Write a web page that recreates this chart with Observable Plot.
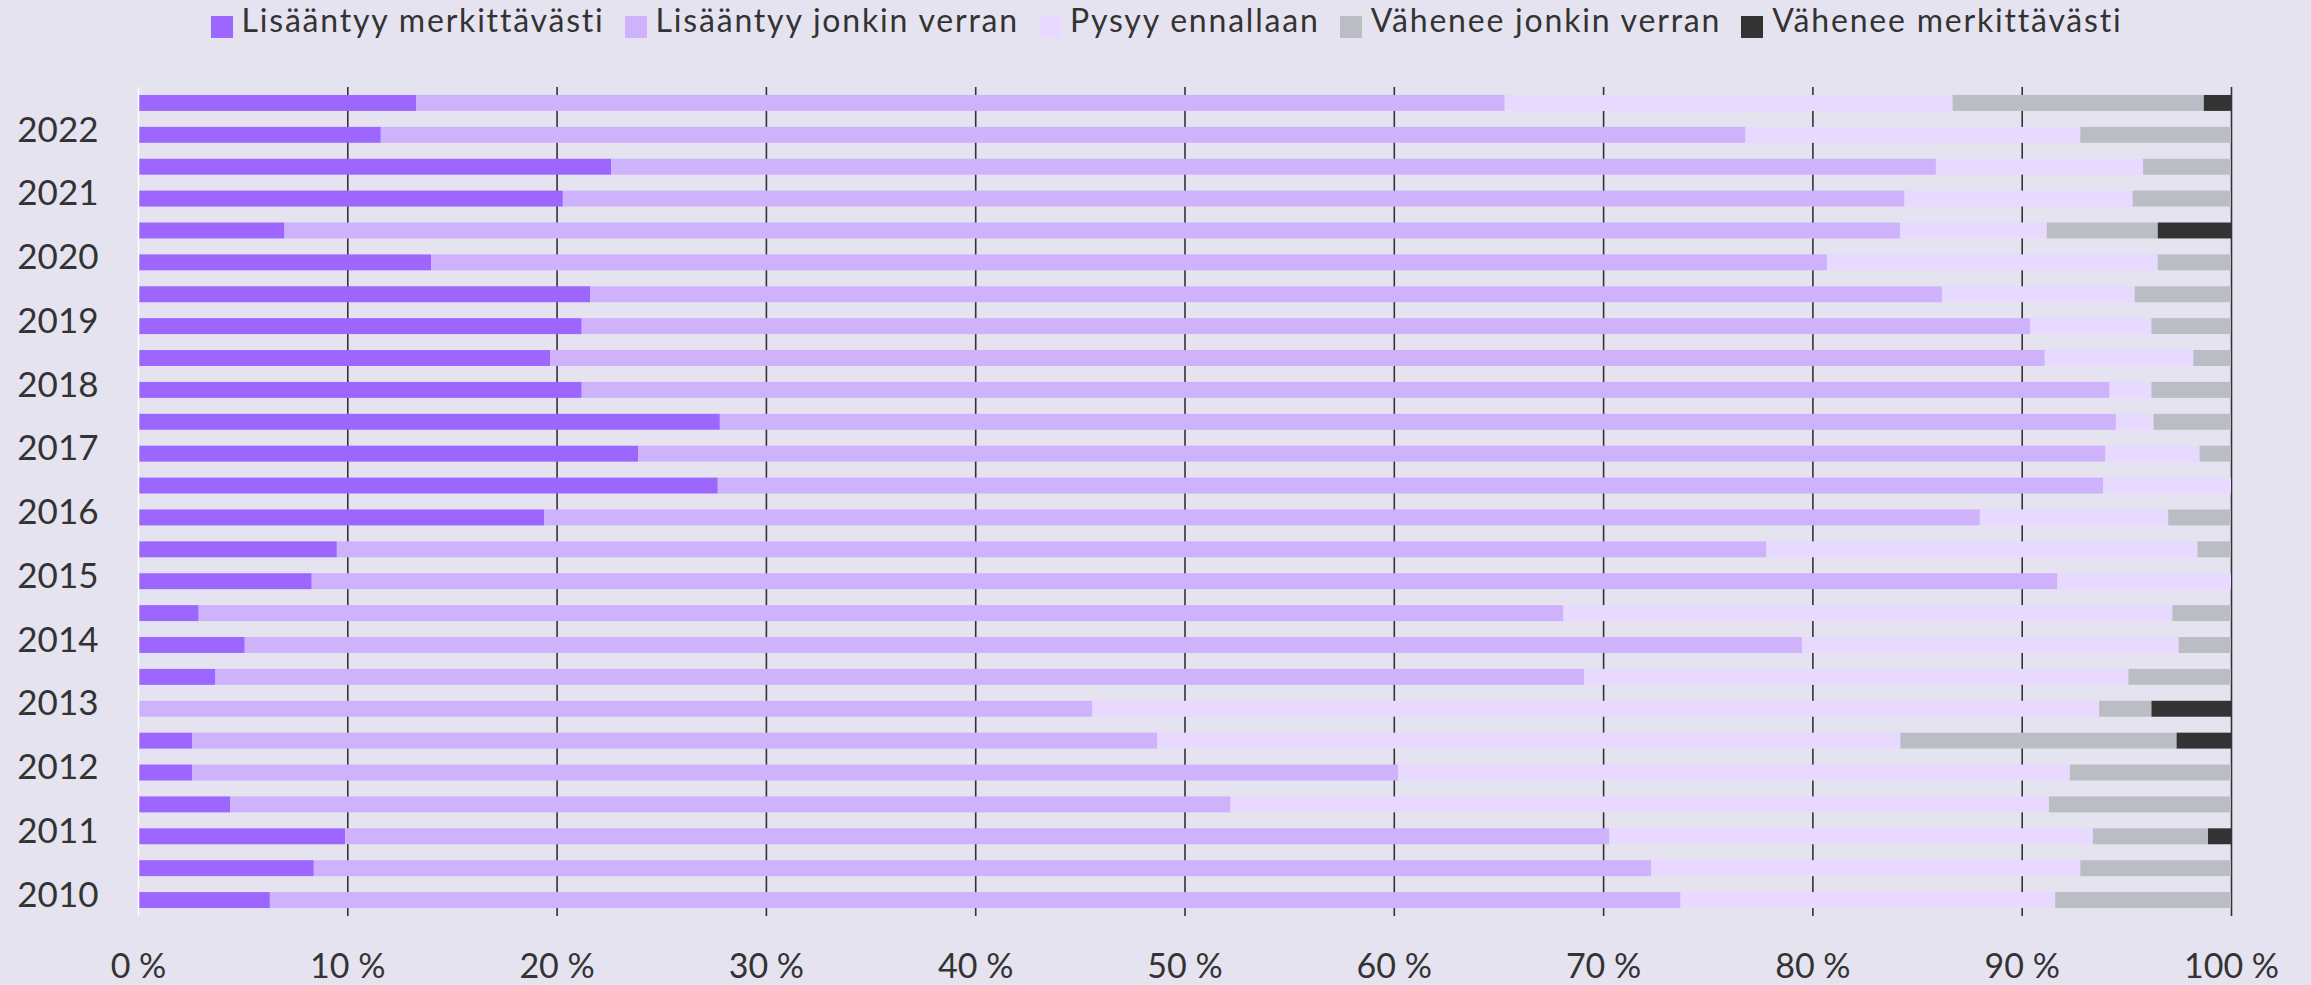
<!DOCTYPE html>
<html>
<head>
<meta charset="utf-8">
<script src="https://cdn.jsdelivr.net/npm/d3@7"></script>
<script src="https://cdn.jsdelivr.net/npm/@observablehq/plot@0.6"></script>
<style>
  html, body { margin: 0; padding: 0; background: #e5e3ef; }
  body { width: 2311px; height: 985px; overflow: hidden; font-family: Lato, sans-serif; color: #333; }
  #legend { height: 60px; display: flex; justify-content: center; align-items: flex-start; padding-left: 22px; box-sizing: border-box; }
  .item { display: flex; align-items: flex-start; margin: 0 10px; }
  .sw { width: 22px; height: 22px; margin-top: 16px; margin-right: 9px; flex: none; }
  .lbl { font-size: 32px; line-height: 32px; padding-top: 4px; letter-spacing: 1.8px; white-space: nowrap; }
  svg { display: block; }
</style>
</head>
<body>
<div id="legend"></div>
<div id="chart"></div>
<script>
const periods = ["2010 I","2010 II","2011 I","2011 II","2012 I","2012 II","2013 I","2013 II","2014 I","2014 II","2015 I","2015 II","2016 I","2016 II","2017 I","2017 II","2018 I","2018 II","2019 I","2019 II","2020 I","2020 II","2021 I","2021 II","2022 I","2022 II"];
const categories = ["Lisääntyy merkittävästi","Lisääntyy jonkin verran","Pysyy ennallaan","Vähenee jonkin verran","Vähenee merkittävästi"];
const colors = ["#9d66ff","#ceb2fc","#e7d9ff","#bbbdc5","#333333"];
const lisMerk   = [6.3, 8.4, 9.9, 4.4, 2.6, 2.6, 0, 3.7, 5.1, 2.9, 8.3, 9.5, 19.4, 27.7, 23.9, 27.8, 21.2, 19.7, 21.2, 21.6, 14.0, 7.0, 20.3, 22.6, 11.6, 13.3];
const lisJonkin = [67.4, 63.9, 60.4, 47.8, 57.6, 46.1, 45.6, 65.4, 74.4, 65.2, 83.4, 68.3, 68.6, 66.2, 70.1, 66.7, 73.0, 71.4, 69.2, 64.6, 66.7, 77.2, 64.1, 63.3, 65.2, 52.0];
const pysyy     = [17.9, 20.5, 23.1, 39.1, 32.1, 35.5, 48.1, 26.0, 18.0, 29.1, 8.3, 20.6, 9.0, 6.1, 4.5, 1.8, 2.0, 7.1, 5.8, 9.2, 15.8, 7.0, 10.9, 9.9, 16.0, 21.4];
const vahJonkin = [8.4, 7.2, 5.5, 8.7, 7.7, 13.2, 2.5, 4.9, 2.5, 2.8, 0, 1.6, 3.0, 0, 1.5, 3.7, 3.8, 1.8, 3.8, 4.6, 3.5, 5.3, 4.7, 4.2, 7.2, 12.0];
const vahMerk   = [0, 0, 1.1, 0, 0, 2.6, 3.8, 0, 0, 0, 0, 0, 0, 0, 0, 0, 0, 0, 0, 0, 0, 3.5, 0, 0, 0, 1.3];
const xTicks = [0, 10, 20, 30, 40, 50, 60, 70, 80, 90, 100];

const series = [lisMerk, lisJonkin, pysyy, vahJonkin, vahMerk];
const data = [];
periods.forEach((p, i) => {
  series.forEach((s, k) => data.push({period: p, category: categories[k], value: s[i]}));
});

// legend
const legend = document.getElementById("legend");
categories.forEach((c, k) => {
  const it = document.createElement("div");
  it.className = "item";
  it.innerHTML = `<div class="sw" style="background:${colors[k]}"></div><div class="lbl">${c}</div>`;
  legend.appendChild(it);
});

const chart = Plot.plot({
  width: 2311,
  height: 925,
  marginTop: 27,
  marginBottom: 69,
  marginLeft: 138,
  marginRight: 80,
  style: {background: "#e5e3ef", fontFamily: "Lato, sans-serif", color: "#333", fontSize: "34px"},
  x: {domain: [0, 100]},
  y: {domain: periods.slice().reverse(), paddingInner: 0.5, paddingOuter: 0.25, round: false},
  color: {domain: categories, range: colors},
  marks: [
    Plot.ruleX(xTicks.filter(d => d > 0), {stroke: "#333", strokeWidth: 1.6}),
    Plot.barX(data, {x: "value", y: "period", fill: "category", order: null}),
    Plot.ruleX([0], {stroke: "#fff", strokeWidth: 1.5}),
    Plot.axisX({ticks: xTicks, tickFormat: d => d + " %", tickSize: 0, tickPadding: 37, fontSize: 34, label: null}),
    Plot.axisY({tickSize: 0, tickPadding: 40, fontSize: 35, dy: -5, label: null,
      tickFormat: d => d.endsWith(" I") ? d.split(" ")[0] : ""})
  ]
});
document.getElementById("chart").appendChild(chart);
</script>
</body>
</html>
